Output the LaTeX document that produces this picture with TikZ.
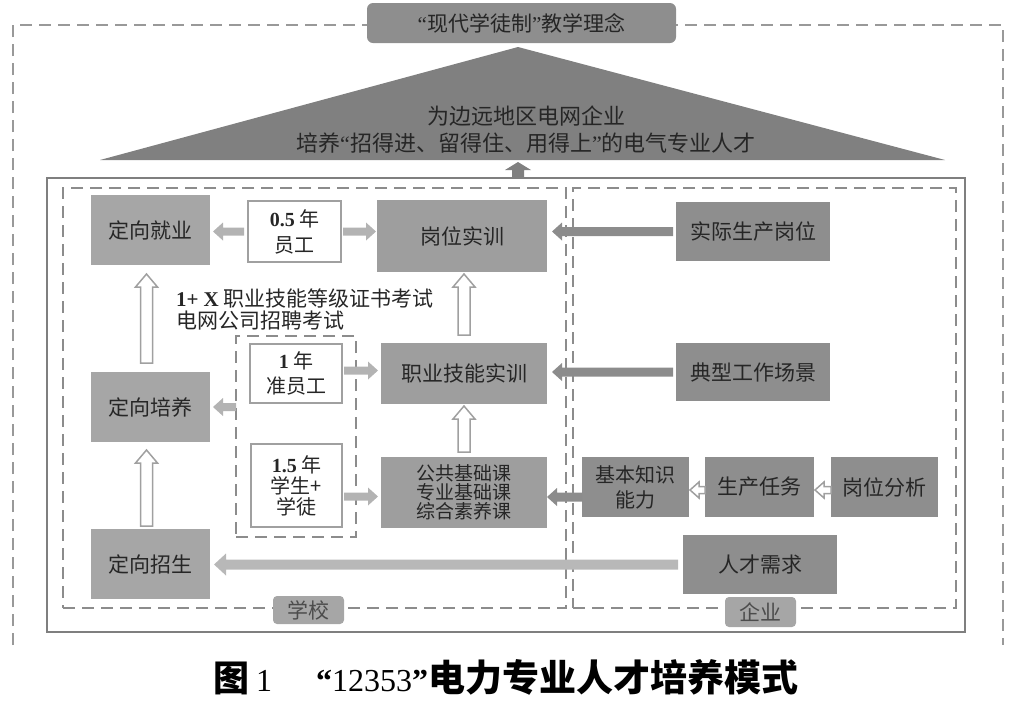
\documentclass[tikz,border=0pt]{standalone}
\usepackage{fontspec}
\setmainfont{Liberation Serif}
\newfontfamily\cjk{Noto Sans CJK SC}
\newfontfamily\tnr{Liberation Serif}
\usetikzlibrary{arrows.meta,calc}
\definecolor{bxA}{HTML}{A6A6A6}
\definecolor{bxB}{HTML}{9E9E9E}
\definecolor{bxC}{HTML}{8E8E8E}
\definecolor{tri}{HTML}{808080}
\definecolor{dashc}{HTML}{8C8C8C}
\definecolor{txt}{HTML}{262626}
\definecolor{arL}{HTML}{B3B3B3}
\definecolor{arD}{HTML}{8C8C8C}
\definecolor{hol}{HTML}{A0A0A0}
\definecolor{frame}{HTML}{7F7F7F}
\newcommand\hArrowX[6]{%
 \draw[#1] ($(#2)+(0,-#4)$) -- ($(#3)+(#6,-#4)$) -- ($(#3)+(#6,-#5)$) -- (#3) -- ($(#3)+(#6,#5)$) -- ($(#3)+(#6,#4)$) -- ($(#2)+(0,#4)$) -- cycle;}
\newcommand\vArrowX[6]{%
 \draw[#1] ($(#2)+(-#4,0)$) -- ($(#3)+(-#4,#6)$) -- ($(#3)+(-#5,#6)$) -- (#3) -- ($(#3)+(#5,#6)$) -- ($(#3)+(#4,#6)$) -- ($(#2)+(#4,0)$) -- cycle;}
\newcommand\qlx{{\tnr “}}
\newcommand\qrx{{\tnr ”}}
\tikzset{
 base/.style={inner sep=0pt, outer sep=0pt, text=txt, font=\cjk\fontsize{21}{25}\selectfont, align=center},
 boxA/.style={base, fill=bxA},
 boxB/.style={base, fill=bxB},
 boxC/.style={base, fill=bxC},
 wbox/.style={base, fill=white, draw=hol, line width=2pt},
 dline/.style={draw=dashc, line width=1.8pt, dash pattern=on 12pt off 7pt},
 frameb/.style={inner sep=0pt, outer sep=0pt, draw=frame, line width=2.5pt},
 tag/.style={base, fill=bxA, rounded corners=4pt, text=black!70},
 fillL/.style={fill=arL, draw=none},
 fillD/.style={fill=arD, draw=none},
 fillT/.style={fill=tri, draw=none},
 hollow/.style={fill=white, draw=hol, line width=1.5pt},
}
\begin{document}
\begin{tikzpicture}[x=1pt,y=-1pt]
\useasboundingbox (0,0) rectangle (1010,705);
% outer dashed frame
\draw[dline, draw=black!40] (13,645) -- (13,25) -- (1003,25) -- (1003,645);
% top concept box
\node[base, fill=bxC, rounded corners=6pt, minimum width=309, minimum height=40] (top) at (521.5,23) {\qlx 现代学徒制\qrx 教学理念};
% triangle
\fill[tri] (518,47) -- (945,160) -- (100,160) -- cycle;
\coordinate (tribase) at (518,162);
\node[base, font=\cjk\fontsize{22}{27}\selectfont] (tt) at (526,130) {为边远地区电网企业\\培养\qlx 招得进、留得住、用得上\qrx 的电气专业人才};
% main frame
\node[frameb, minimum width=918, minimum height=454] (main) at (506,405) {};
\node[inner sep=0pt, outer sep=0pt, dline, minimum width=503, minimum height=420] (sch) at (314.5,398) {};
\node[inner sep=0pt, outer sep=0pt, dline, minimum width=383, minimum height=420] (ent) at (764.5,398) {};
\node[inner sep=0pt, outer sep=0pt, dline, minimum width=120, minimum height=201] (inr) at (296,436.5) {};
% school boxes
\node[boxA, minimum width=119, minimum height=70] (jy) at (150.5,230) {定向就业};
\node[boxA, minimum width=119, minimum height=70] (py) at (150.5,407) {定向培养};
\node[boxA, minimum width=119, minimum height=70] (zs) at (150.5,564) {定向招生};
\node[wbox, minimum width=93, minimum height=61, font=\cjk\fontsize{20}{26}\selectfont] (y05) at (294.5,231.5) {{\tnr\bfseries 0.5} 年\\员工};
\node[wbox, minimum width=92, minimum height=59, font=\cjk\fontsize{20}{25}\selectfont] (y1) at (296,373.5) {{\tnr\bfseries 1} 年\\准员工};
\node[wbox, minimum width=91, minimum height=83, font=\cjk\fontsize{20}{21}\selectfont] (y15) at (296.5,485.5) {{\tnr\bfseries 1.5} 年\\学生+\\学徒};
\node[boxB, minimum width=170, minimum height=72] (gw) at (462,236) {岗位实训};
\node[boxB, minimum width=166, minimum height=61] (zy) at (464,373.5) {职业技能实训};
\node[boxB, minimum width=166, minimum height=71, font=\cjk\fontsize{19}{19}\selectfont] (gg) at (464,492.5) {公共基础课\\专业基础课\\综合素养课};
\node[base, anchor=west] (ks1) at (176,298) {{\tnr\bfseries 1+ X} 职业技能等级证书考试};
\node[base, anchor=west] (ks2) at (176,321) {电网公司招聘考试};
% enterprise boxes
\node[boxC, minimum width=154, minimum height=59] (sj) at (753,231.5) {实际生产岗位};
\node[boxC, minimum width=154, minimum height=58] (dx) at (753,372) {典型工作场景};
\node[boxC, minimum width=107, minimum height=60, font=\cjk\fontsize{20}{25}\selectfont] (jb) at (635.5,487) {基本知识\\能力};
\node[boxC, minimum width=109, minimum height=60] (sc) at (759.5,487) {生产任务};
\node[boxC, minimum width=107, minimum height=60] (gf) at (884.5,487) {岗位分析};
\node[boxC, minimum width=154, minimum height=59] (rc) at (760,564.5) {人才需求};
% tags
\node[tag, minimum width=71, minimum height=28] (xx) at (308.5,610) {学校};
\node[tag, minimum width=71, minimum height=30] (qy) at (760.5,612) {企业};
% arrows: filled
\coordinate (a1s) at ($(y05.west)+(-4,0)$);
\coordinate (a1t) at ($(jy.east |- y05.west)+(3,0)$);
\hArrowX{fillL}{a1s}{a1t}{4}{9}{10}
\coordinate (a2s) at ($(y05.east)+(2,0)$);
\coordinate (a2t) at ($(gw.west |- y05.east)+(-1,0)$);
\hArrowX{fillL}{a2s}{a2t}{4}{9}{-10}
\coordinate (a3s) at ($(sj.west)+(-3,0)$);
\coordinate (a3t) at ($(gw.east |- sj.west)+(5,0)$);
\hArrowX{fillD}{a3s}{a3t}{4.5}{9}{10}
\coordinate (a4s) at ($(dx.west)+(-3,0)$);
\coordinate (a4t) at ($(zy.east |- dx.west)+(5,0)$);
\hArrowX{fillD}{a4s}{a4t}{4.5}{9}{10}
\coordinate (a5s) at ($(y1.east)+(2,-3)$);
\coordinate (a5t) at ($(zy.west |- a5s)+(-3,0)$);
\hArrowX{fillL}{a5s}{a5t}{4}{9}{-10}
\coordinate (a6s) at (inr.west |- py.east);
\coordinate (a6t) at ($(py.east)+(3,0)$);
\hArrowX{fillL}{a6s}{a6t}{4}{9}{10}
\coordinate (a7s) at ($(y15.east |- gg.west)+(2,4)$);
\coordinate (a7t) at ($(gg.west)+(-3,4)$);
\hArrowX{fillL}{a7s}{a7t}{4}{9}{-10}
\coordinate (a8s) at ($(jb.west)+(0,10)$);
\coordinate (a8t) at (gg.east |- a8s);
\hArrowX{fillD}{a8s}{a8t}{4.5}{9}{10}
\coordinate (a11s) at ($(rc.west)+(-5,0)$);
\coordinate (a11t) at ($(zs.east |- rc.west)+(4,0)$);
\hArrowX{fill=black!28, draw=none}{a11s}{a11t}{5}{11}{12}
\coordinate (a12s) at (tribase |- main.north);
\vArrowX{fillT}{a12s}{tribase}{6}{13}{8}
% hollow arrows
\coordinate (a9s) at ($(sc.west)+(0,3)$);
\coordinate (a9t) at ($(jb.east |- a9s)+(1,0)$);
\hArrowX{hollow}{a9s}{a9t}{3.5}{8}{9}
\coordinate (a10s) at ($(gf.west)+(0,3)$);
\coordinate (a10t) at ($(sc.east |- a10s)+(1,0)$);
\hArrowX{hollow}{a10s}{a10t}{3.5}{8}{9}
\coordinate (h1s) at ($(zs.north)+(-4,-3)$);
\coordinate (h1t) at ($(py.south)+(-4,8)$);
\vArrowX{hollow}{h1s}{h1t}{6}{11}{13}
\coordinate (h2s) at ($(py.north)+(-4,-9)$);
\coordinate (h2t) at ($(jy.south)+(-4,9)$);
\vArrowX{hollow}{h2s}{h2t}{6}{11}{13}
\coordinate (h3s) at ($(gg.north)+(0,-5)$);
\coordinate (h3t) at ($(zy.south)+(0,2)$);
\vArrowX{hollow}{h3s}{h3t}{6}{11}{13}
\coordinate (h4s) at ($(zy.north)+(0,-8)$);
\coordinate (h4t) at ($(h4s |- gw.south)+(0,2)$);
\vArrowX{hollow}{h4s}{h4t}{6}{11}{13}
% caption
\node[inner sep=0pt, anchor=west, text=black] (cap) at (213,677) {{\cjk\bfseries\fontsize{36}{40}\selectfont 图}\hspace{7pt}{\tnr\fontsize{32}{36}\selectfont 1}\hspace{44pt}{\tnr\bfseries\fontsize{32}{36}\selectfont “}{\tnr\fontsize{32}{36}\selectfont 12353}{\tnr\bfseries\fontsize{32}{36}\selectfont ”}{\cjk\bfseries\fontsize{37}{40}\selectfont 电力专业人才培养模式}};
\end{tikzpicture}
\end{document}
